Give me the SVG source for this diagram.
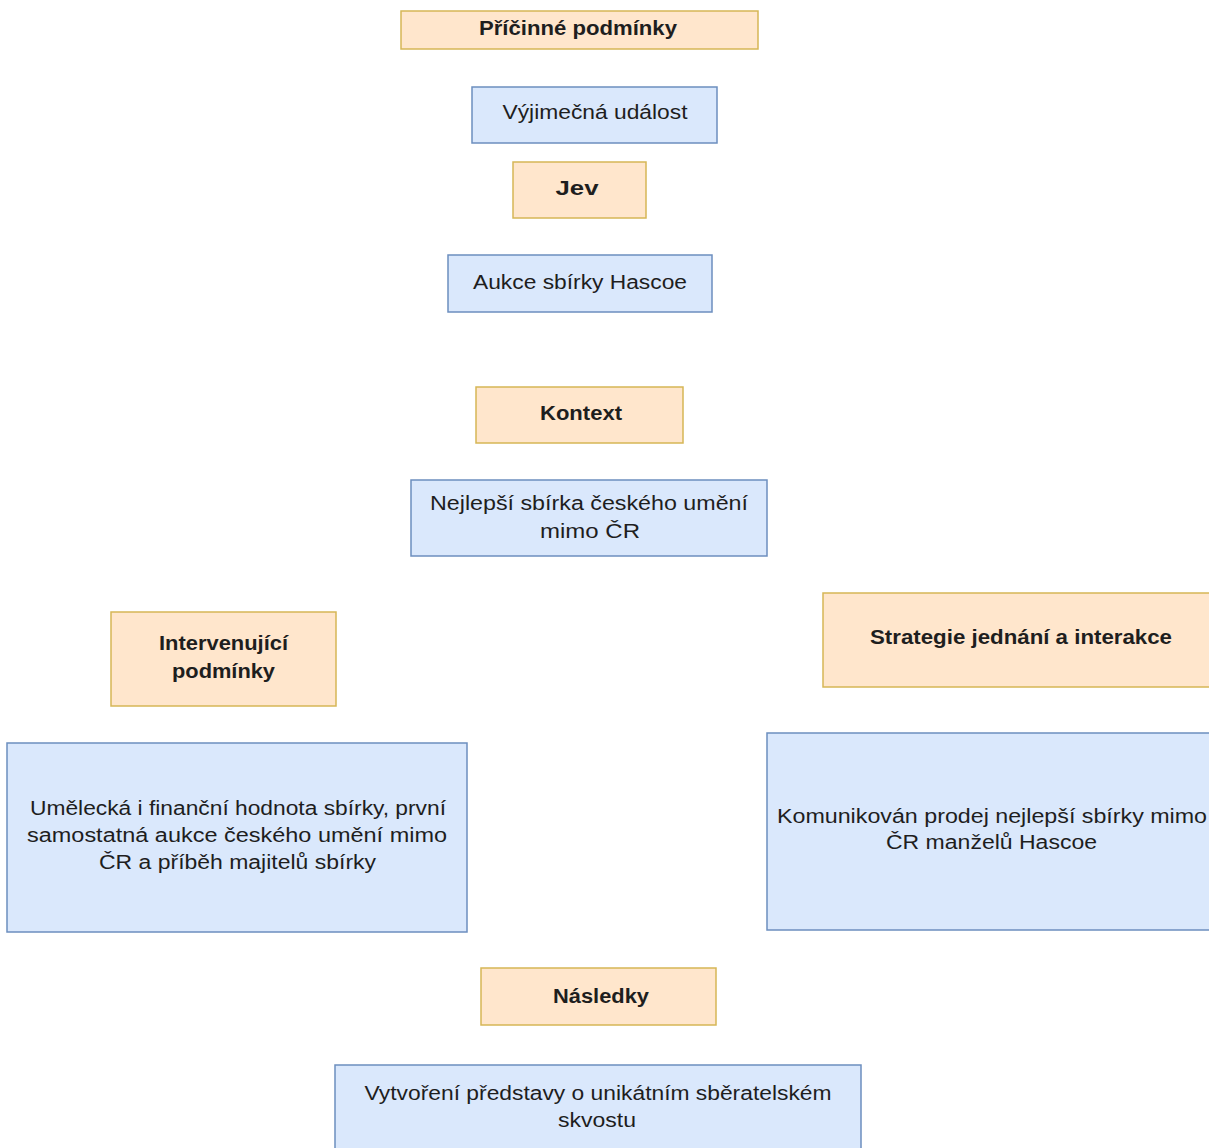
<svg xmlns="http://www.w3.org/2000/svg" width="1209" height="1148" viewBox="0 0 1209 1148">
<style>
.o{fill:#ffe6cc;stroke:#d6b656;stroke-width:1.5}
.b{fill:#dae8fc;stroke:#6c8ebf;stroke-width:1.5}
text{font-family:"Liberation Sans",Arial,sans-serif;font-size:20px;fill:#1e1e1e;text-anchor:middle}
.h{font-weight:bold}
</style>
<rect width="1209" height="1148" fill="#ffffff"/>
<g id="connectors"></g>
<g id="pricinne"><rect class="o" x="401" y="11" width="357" height="38"/><text class="h" x="578" y="35" textLength="198" lengthAdjust="spacingAndGlyphs">Příčinné podmínky</text></g>
<g id="vyjimecna"><rect class="b" x="472" y="87" width="245" height="56"/><text x="595" y="119" textLength="185" lengthAdjust="spacingAndGlyphs">Výjimečná událost</text></g>
<g id="jev"><rect class="o" x="513" y="162" width="133" height="56"/><text class="h" x="577" y="195" textLength="43" lengthAdjust="spacingAndGlyphs">Jev</text></g>
<g id="aukce"><rect class="b" x="448" y="255" width="264" height="57"/><text x="580" y="289" textLength="214" lengthAdjust="spacingAndGlyphs">Aukce sbírky Hascoe</text></g>
<g id="kontext"><rect class="o" x="476" y="387" width="207" height="56"/><text class="h" x="581" y="420" textLength="82" lengthAdjust="spacingAndGlyphs">Kontext</text></g>
<g id="nejlepsi"><rect class="b" x="411" y="480" width="356" height="76"/><text x="589" y="510" textLength="318" lengthAdjust="spacingAndGlyphs">Nejlepší sbírka českého umění</text><text x="590" y="538" textLength="100" lengthAdjust="spacingAndGlyphs">mimo ČR</text></g>
<g id="intervenujici"><rect class="o" x="111" y="612" width="225" height="94"/><text class="h" x="223.5" y="650" textLength="129" lengthAdjust="spacingAndGlyphs">Intervenující</text><text class="h" x="223.5" y="678" textLength="103" lengthAdjust="spacingAndGlyphs">podmínky</text></g>
<g id="umelecka"><rect class="b" x="7" y="743" width="460" height="189"/><text x="238" y="815" textLength="416" lengthAdjust="spacingAndGlyphs">Umělecká i finanční hodnota sbírky, první</text><text x="237" y="842" textLength="420" lengthAdjust="spacingAndGlyphs">samostatná aukce českého umění mimo</text><text x="237.5" y="869" textLength="277" lengthAdjust="spacingAndGlyphs">ČR a příběh majitelů sbírky</text></g>
<g id="strategie"><rect class="o" x="823" y="593" width="397" height="94"/><text class="h" x="1021" y="644" textLength="302" lengthAdjust="spacingAndGlyphs">Strategie jednání a interakce</text></g>
<g id="komunikovan"><rect class="b" x="767" y="733" width="453" height="197"/><text x="992" y="823" textLength="430" lengthAdjust="spacingAndGlyphs">Komunikován prodej nejlepší sbírky mimo</text><text x="991.5" y="849" textLength="211" lengthAdjust="spacingAndGlyphs">ČR manželů Hascoe</text></g>
<g id="nasledky"><rect class="o" x="481" y="968" width="235" height="57"/><text class="h" x="601" y="1003" textLength="96" lengthAdjust="spacingAndGlyphs">Následky</text></g>
<g id="vytvoreni"><rect class="b" x="335" y="1065" width="526" height="100"/><text x="598" y="1100" textLength="467" lengthAdjust="spacingAndGlyphs">Vytvoření představy o unikátním sběratelském</text><text x="597" y="1127" textLength="78" lengthAdjust="spacingAndGlyphs">skvostu</text></g>
</svg>
